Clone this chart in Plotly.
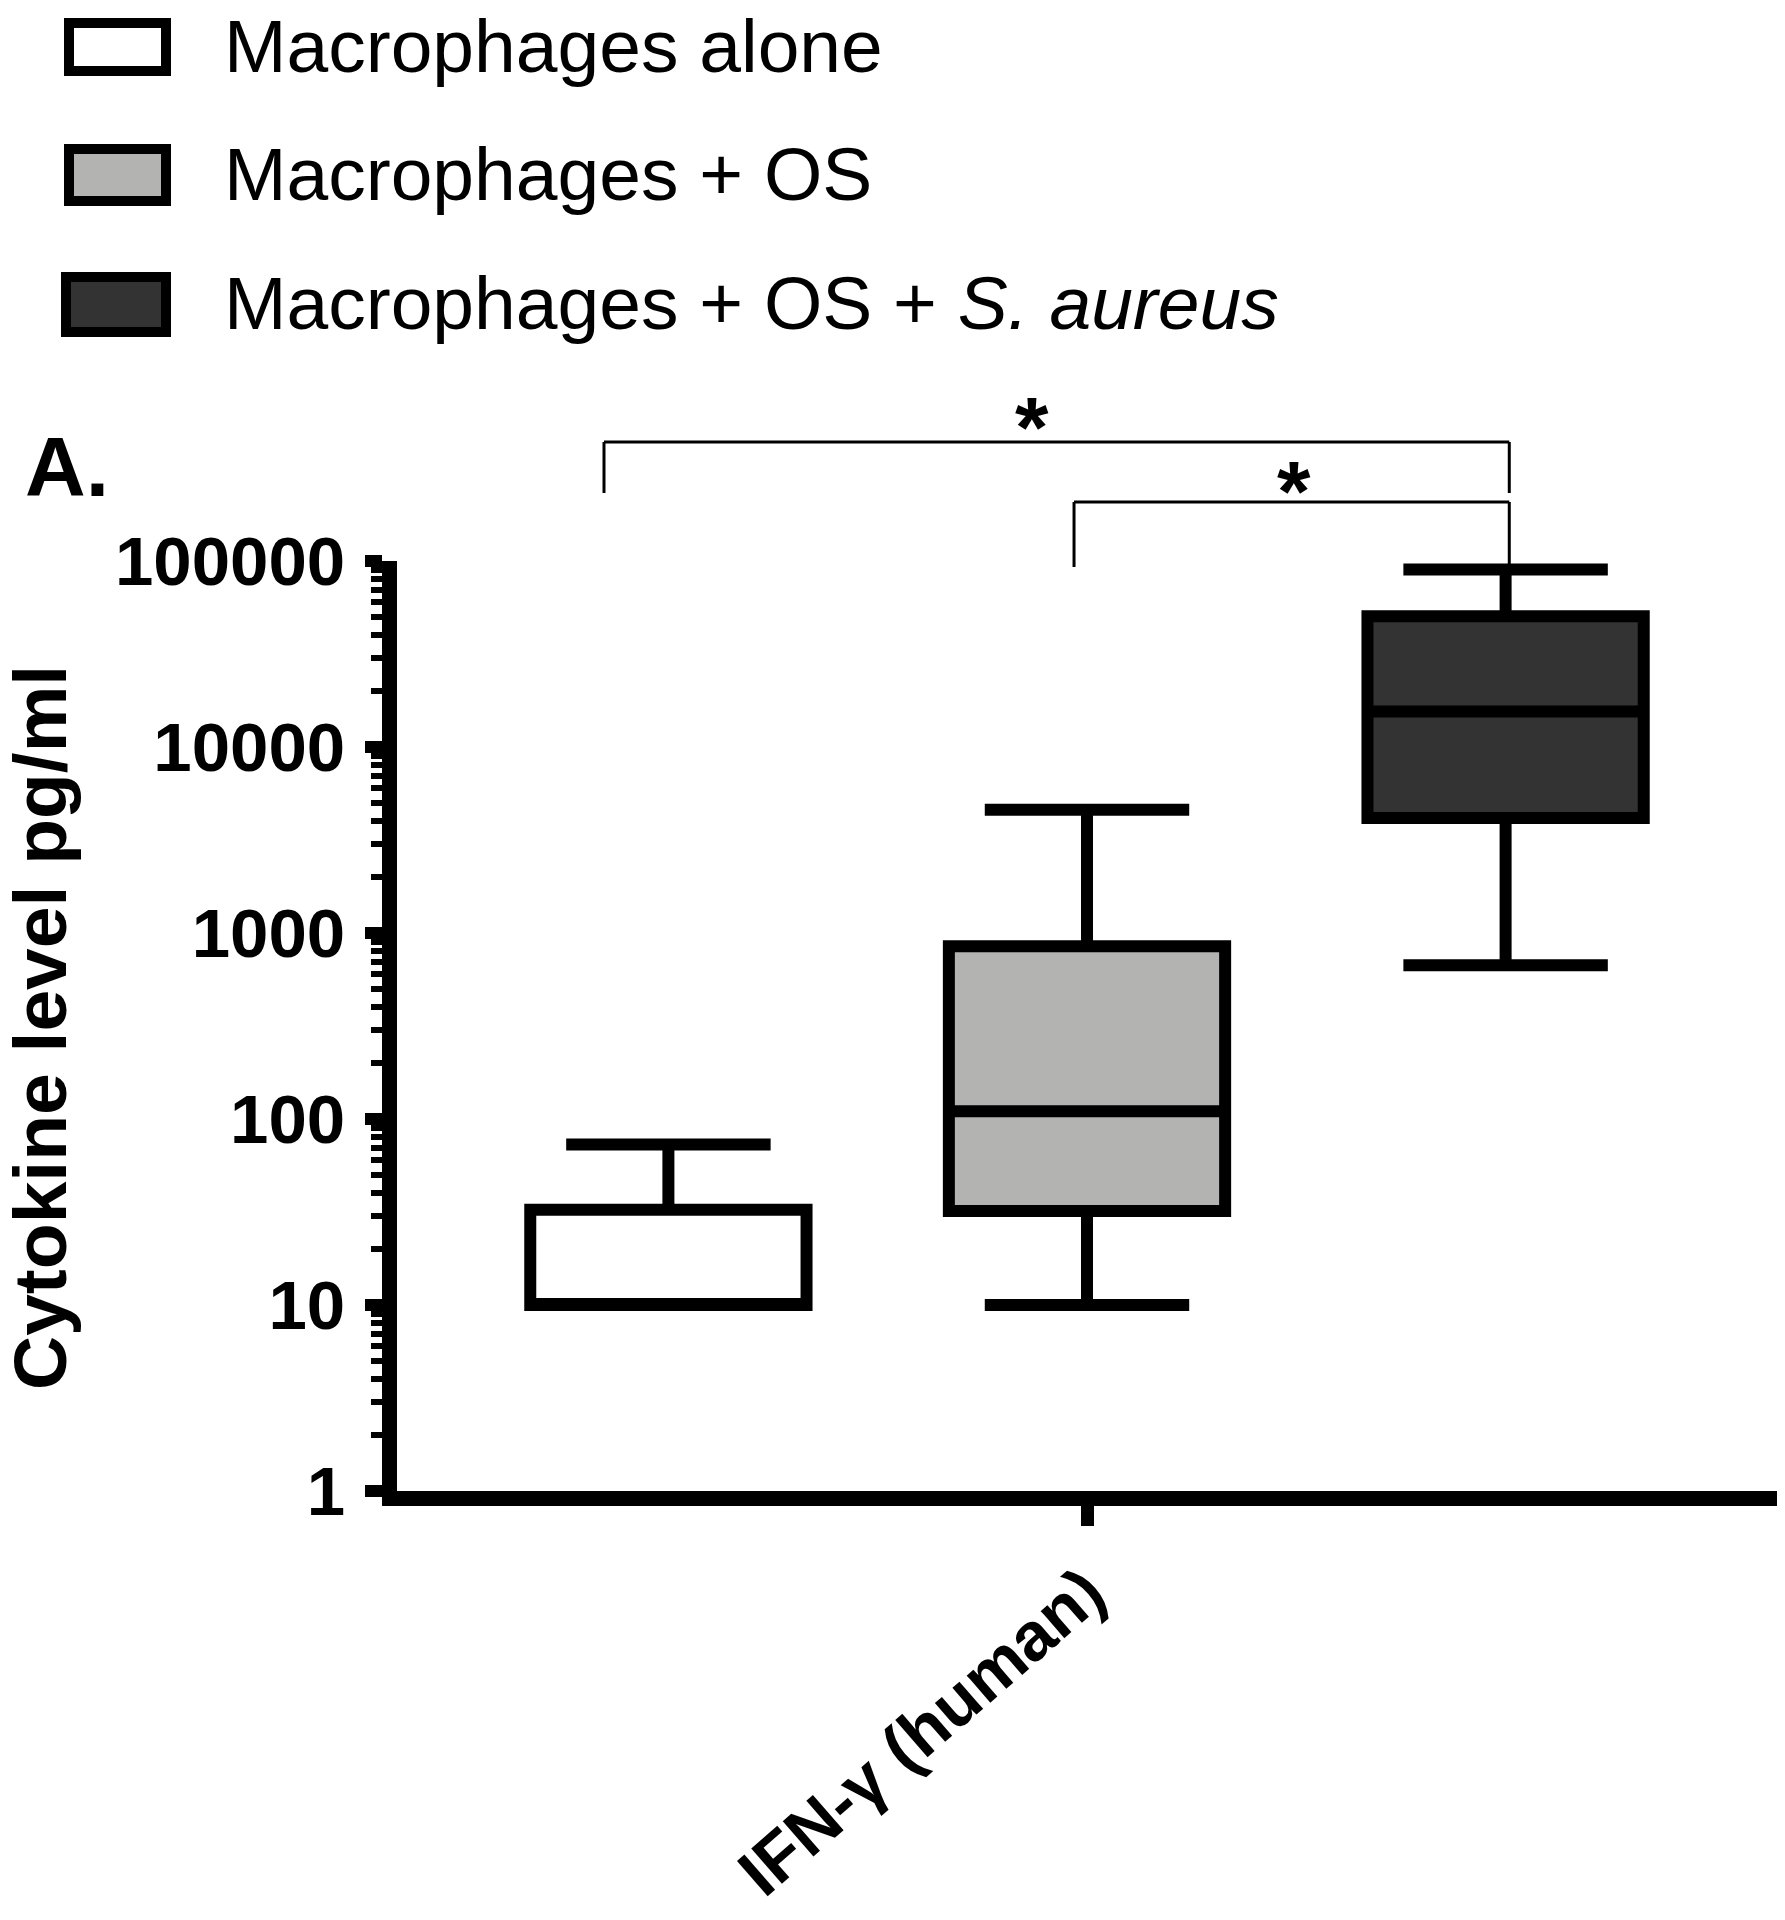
import plotly.graph_objects as go

# ---------------- data ----------------
category = ["IFN-γ (human)"]
groups = ["Macrophages alone", "Macrophages + OS", "Macrophages + OS + <i>S. aureus</i>"]
fills = ["#ffffff", "#b3b3b1", "#333333"]
lowerfence = [10, 10, 670]
q1 = [10, 32, 4150]
median = [10, 110, 15500]
q3 = [32.5, 850, 50500]
upperfence = [73, 4600, 90000]
ytickvals = [1, 10, 100, 1000, 10000, 100000]
yticktext = ["1", "10", "100", "1000", "10000", "100000"]
y_title = "Cytokine level pg/ml"
minor_vals = [m * 10 ** d for d in range(5) for m in range(2, 10)]

# ---------------- layout geometry (pixels) ----------------
# the page body has an 8px margin, so the figure is made 16px smaller
OFF = 8
W, H = 1785 - 2 * OFF, 1920 - 2 * OFF
L, R, T, B = 389, 0, 553, 421
PW = W - L - R
PH = H - T - B


def px(xp):  # page pixel -> paper x
    return (xp - OFF - L) / PW


def py(yp):  # page pixel -> paper y
    return (H - B - (yp - OFF)) / PH


FONT = "Liberation Sans, Arial, Helvetica, sans-serif"

fig = go.Figure()
for i in range(3):
    fig.add_trace(go.Box(
        x=category,
        q1=[q1[i]], median=[median[i]], q3=[q3[i]],
        lowerfence=[lowerfence[i]], upperfence=[upperfence[i]],
        name=groups[i],
        fillcolor=fills[i],
        line=dict(color="black", width=12),
        whiskerwidth=0.74,
        showlegend=False,
    ))

shapes = []
annotations = []

# custom legend (page pixel positions)
leg_rows = [(23, 71, 69, 166), (149, 201, 69, 166), (277, 332, 66, 166)]
leg_text_y = [46, 174, 303]
for i, (y0, y1, x0, x1) in enumerate(leg_rows):
    shapes.append(dict(type="rect", xref="paper", yref="paper",
                       x0=px(x0), x1=px(x1), y0=py(y1), y1=py(y0),
                       line=dict(color="black", width=10), fillcolor=fills[i]))
    annotations.append(dict(xref="paper", yref="paper", x=px(222), y=py(leg_text_y[i]),
                            xanchor="left", yanchor="middle", showarrow=False,
                            text=groups[i], font=dict(family=FONT, size=75, color="black")))

# significance brackets
line_style = dict(color="black", width=3)
bx_l1, bx_r = -0.35, 0.306
bx_l2 = -0.0094
shapes += [
    dict(type="line", xref="x", yref="paper", x0=bx_l1, x1=bx_r, y0=py(442), y1=py(442), line=line_style),
    dict(type="line", xref="x", yref="paper", x0=bx_l1, x1=bx_l1, y0=py(442), y1=py(493), line=line_style),
    dict(type="line", xref="x", yref="paper", x0=bx_r, x1=bx_r, y0=py(442), y1=py(493), line=line_style),
    dict(type="line", xref="x", yref="paper", x0=bx_l2, x1=bx_r, y0=py(502), y1=py(502), line=line_style),
    dict(type="line", xref="x", yref="paper", x0=bx_l2, x1=bx_l2, y0=py(502), y1=py(567), line=line_style),
    dict(type="line", xref="x", yref="paper", x0=bx_r, x1=bx_r, y0=py(502), y1=py(568), line=line_style),
]
annotations += [
    dict(xref="paper", yref="paper", x=px(1032), y=py(427), text="*", showarrow=False,
         xanchor="center", yanchor="middle", font=dict(family=FONT, size=86, color="black", weight="bold")),
    dict(xref="paper", yref="paper", x=px(1294), y=py(491), text="*", showarrow=False,
         xanchor="center", yanchor="middle", font=dict(family=FONT, size=86, color="black", weight="bold")),
    dict(xref="paper", yref="paper", x=px(67), y=py(467), text="A.", showarrow=False,
         xanchor="center", yanchor="middle", font=dict(family=FONT, size=84, color="black", weight="bold")),
    # y-axis title
    dict(xref="paper", yref="paper", x=px(40), y=py(1028), text=y_title, textangle=-90, showarrow=False,
         xanchor="center", yanchor="middle", font=dict(family=FONT, size=75, color="black", weight="bold")),
]

fig.update_layout(
    width=W, height=H,
    margin=dict(l=L, r=R, t=T, b=B, pad=0, autoexpand=False),
    paper_bgcolor="white", plot_bgcolor="white",
    boxmode="group", boxgap=0.09, boxgroupgap=0.34,
    shapes=shapes, annotations=annotations,
    font=dict(family=FONT, color="black"),
    xaxis=dict(type="category", range=[-0.5, 0.5], showline=True, linewidth=15, linecolor="black",
               automargin=False,
               ticks="outside", ticklen=20, tickwidth=13, tickcolor="black", tickangle=-41,
               tickfont=dict(family=FONT, size=68, color="black", weight="bold"),
               showgrid=False, zeroline=False),
    yaxis=dict(type="log", range=[0, 5], tickmode="array", tickvals=ytickvals, ticktext=yticktext,
               automargin=False,
               showline=True, linewidth=15, linecolor="black",
               ticks="outside", ticklen=17, tickwidth=12, tickcolor="black",
               ticklabelstandoff=6,
               minor=dict(tickmode="array", tickvals=minor_vals, ticks="outside", ticklen=11,
                          tickwidth=6, tickcolor="black"),
               tickfont=dict(family=FONT, size=69, color="black", weight="bold"),
               showgrid=False, zeroline=False),
)

fig.write_html("out.html")
